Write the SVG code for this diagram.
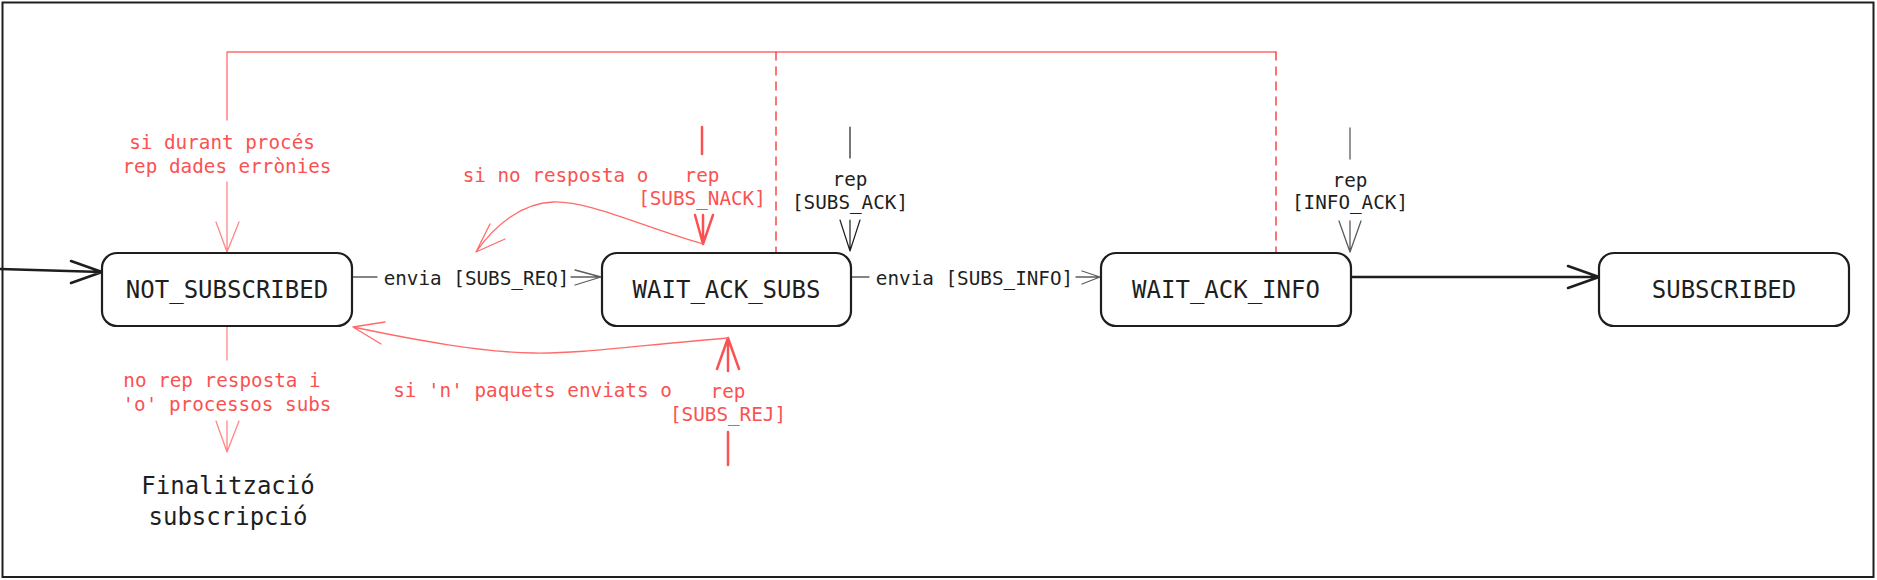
<svg xmlns="http://www.w3.org/2000/svg" width="1877" height="580" viewBox="0 0 1877 580">
<style>
.node rect{fill:#fff;stroke:#1e1e1e;stroke-width:2.2}
.nl{font-family:"DejaVu Sans Mono","Liberation Mono",monospace;font-size:24px;fill:#1e1e1e;text-anchor:middle;dominant-baseline:central}
.lb{font-family:"DejaVu Sans Mono","Liberation Mono",monospace;font-size:19.3px;text-anchor:middle;dominant-baseline:central}
.dk{fill:#1e1e1e}
.rd{fill:#fa5252}
.c{fill:none;stroke-linecap:round;stroke-linejoin:round}
.thick{stroke:#1e1e1e;stroke-width:2.5}
.gray{stroke:#5c5c5c;stroke-width:1.3}
.blk{stroke:#1e1e1e;stroke-width:1.2}
.red{stroke:#fa5252;stroke-width:2.5}
.redt{stroke:#ff6b6b;stroke-width:1.3}
.redl{stroke:#ff8787;stroke-width:1.3}
.dash{stroke:#fa5252;stroke-width:1.6;stroke-dasharray:8 7}
</style>
<rect x="2.5" y="2.5" width="1871" height="574.5" fill="#fff" stroke="#1e1e1e" stroke-width="2"/>
<g id="connectors">
  <!-- initial arrow -->
  <path class="c thick" d="M0 269 L102 272 M71 261 L102 272 L71 283"/>
  <!-- envia SUBS_REQ -->
  <path class="c gray" d="M352 277 L377 277 M571 277 L601 277 M575 270 L601 277 L575 285"/>
  <!-- envia SUBS_INFO -->
  <path class="c gray" d="M851 277 L869 277 M1076 277 L1100 277 M1082 271 L1100 277 L1082 284"/>
  <!-- WAIT_ACK_INFO -> SUBSCRIBED -->
  <path class="c thick" d="M1351 277 L1599 277 M1568 266 L1599 277 L1568 288"/>
  <!-- rep SUBS_ACK -->
  <path class="c blk" d="M850 127 L850 158 M840 220 L850 251 L860 220 M850 220 L850 251"/>
  <!-- rep INFO_ACK -->
  <path class="c gray" d="M1350 128 L1350 159 M1339 221 L1350 252 L1361 221 M1350 221 L1350 252"/>
  <!-- error return top -->
  <path class="c redt" d="M227 120 L227 52 L1276 52"/>
  <path class="c redl" d="M227 182 L227 252 M216 222 L227 252 L239 222"/>
  <path class="c dash" d="M776 52 L776 253 M1276 52 L1276 253"/>
  <!-- NACK -->
  <path class="c red" d="M702 127 L702 154 M695 215 L703 244 L713 215 M703 215 L703 244"/>
  <path class="c redt" d="M703 244 C640 226 590 201 553 202 C522 203 495 225 476 252 M490 224 L476 252 L505 239"/>
  <!-- REJ -->
  <path class="c red" d="M728 432 L728 465 M717 369 L728 338 L739 369 M728 338 L728 371"/>
  <path class="c redt" d="M728 338 C640 345 580 354 533 353 C480 352 420 341 353 327 M385 322 L353 327 L381 344"/>
  <!-- finalization -->
  <path class="c redl" d="M227 327 L227 360 M216 421 L227 452 L239 421 M227 421 L227 452"/>
</g>
<g id="labels">
  <text class="lb rd" x="222" y="142">si durant procés</text>
  <text class="lb rd" x="227" y="166">rep dades errònies</text>
  <text class="lb rd" x="555.5" y="175">si no resposta o</text>
  <text class="lb rd" x="702" y="175">rep</text>
  <text class="lb rd" x="702" y="198">[SUBS_NACK]</text>
  <text class="lb dk" x="850" y="179">rep</text>
  <text class="lb dk" x="850" y="202">[SUBS_ACK]</text>
  <text class="lb dk" x="1350" y="180">rep</text>
  <text class="lb dk" x="1350" y="202">[INFO_ACK]</text>
  <text class="lb dk" x="476.5" y="278">envia [SUBS_REQ]</text>
  <text class="lb dk" x="974.5" y="278">envia [SUBS_INFO]</text>
  <text class="lb rd" x="222" y="380">no rep resposta i</text>
  <text class="lb rd" x="227" y="404">'o' processos subs</text>
  <text class="lb rd" x="532.5" y="390">si 'n' paquets enviats o</text>
  <text class="lb rd" x="728" y="391">rep</text>
  <text class="lb rd" x="728" y="414">[SUBS_REJ]</text>
</g>
<g id="n-not-subscribed" class="node">
  <rect x="102" y="253" width="250" height="73" rx="15"/>
  <text class="nl" x="227" y="290">NOT_SUBSCRIBED</text>
</g>
<g id="n-wait-ack-subs" class="node">
  <rect x="602" y="253" width="249" height="73" rx="15"/>
  <text class="nl" x="726.5" y="290">WAIT_ACK_SUBS</text>
</g>
<g id="n-wait-ack-info" class="node">
  <rect x="1101" y="253" width="250" height="73" rx="15"/>
  <text class="nl" x="1226" y="290">WAIT_ACK_INFO</text>
</g>
<g id="n-subscribed" class="node">
  <rect x="1599" y="253" width="250" height="73" rx="15"/>
  <text class="nl" x="1724" y="290">SUBSCRIBED</text>
</g>
<g id="n-finalitzacio">
  <text class="nl" x="228" y="486">Finalització</text>
  <text class="nl" x="228" y="517">subscripció</text>
</g>
</svg>
